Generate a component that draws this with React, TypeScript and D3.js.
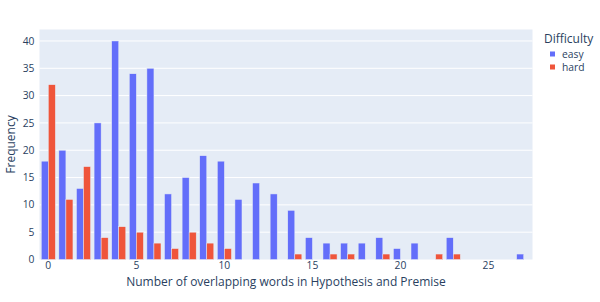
import React from 'react'
import * as d3 from 'd3'

// overlap word counts, one bin per integer
const bins = d3.range(0, 28)
const easyCounts = [18, 20, 13, 25, 40, 34, 35, 12, 15, 19, 18, 11, 14, 12, 9, 4, 3, 3, 3, 4, 2, 3, 0, 4, 0, 0, 0, 1]
const hardCounts = [32, 11, 17, 4, 6, 5, 3, 2, 5, 3, 2, 0, 0, 0, 1, 0, 1, 1, 0, 1, 0, 0, 1, 1, 0, 0, 0, 0]
const series = [
  { name: 'easy', values: easyCounts, color: '#636efa' },
  { name: 'hard', values: hardCounts, color: '#EF553B' }
]
const xTicks = [0, 5, 10, 15, 20, 25]
const yTicks = [0, 5, 10, 15, 20, 25, 30, 35, 40]

const W = 600
const H = 302
const left = 39.5
const right = 532.5
const top = 29.5
const bottom = 259.5
const font = '"Open Sans", verdana, arial, sans-serif'
const ink = '#2a3f5f'
const tickSize = 10.3
const titleSize = 12

export default function App () {
  const x = d3.scaleLinear().domain([-0.5, 27.5]).range([left, right])
  const y = d3.scaleLinear().domain([0, 42.1]).range([bottom, top])
  const barW = 0.4

  return (
    <svg width={W} height={H} style={{ position: 'absolute', left: 0, top: 0, fontFamily: font }}>
      <rect x={0} y={0} width={W} height={H} fill='white' />
      <rect x={left} y={top} width={right - left} height={bottom - top} fill='#E5ECF6' />
      {yTicks.map(t => (
        <g key={t}>
          {t > 0 && <line x1={left} x2={right} y1={y(t)} y2={y(t)} stroke='white' strokeWidth={1} />}
          <text x={left - 5} y={y(t)} dy='0.35em' textAnchor='end' fontSize={tickSize} fill={ink}>{t}</text>
        </g>
      ))}
      {series.map((s, si) => (
        <g key={s.name}>
          {bins.map((b, i) => s.values[i] > 0 && (
            <rect
              key={b}
              x={x(b - barW + si * barW)}
              y={y(s.values[i])}
              width={x(barW) - x(0)}
              height={y(0) - y(s.values[i])}
              fill={s.color}
              stroke='#E5ECF6'
              strokeWidth={0.5}
            />
          ))}
        </g>
      ))}
      {xTicks.map(t => (
        <text key={t} x={x(t)} y={bottom + 9} textAnchor='middle' fontSize={tickSize} fill={ink}>{t}</text>
      ))}
      <text x={(left + right) / 2} y={286} textAnchor='middle' fontSize={titleSize} fill={ink}>
        Number of overlapping words in Hypothesis and Premise
      </text>
      <text transform={`translate(15,${(top + bottom) / 2}) rotate(-90)`} textAnchor='middle' fontSize={titleSize} fill={ink}>
        Frequency
      </text>
      <text x={544} y={42.5} fontSize={titleSize} fill={ink}>Difficulty</text>
      {series.map((s, i) => (
        <g key={s.name} transform={`translate(550,${54 + i * 13})`}>
          <rect x={0} y={-2.5} width={5} height={5} fill={s.color} />
          <text x={12} y={0} dy='0.35em' fontSize={tickSize} fill={ink}>{s.name}</text>
        </g>
      ))}
    </svg>
  )
}
